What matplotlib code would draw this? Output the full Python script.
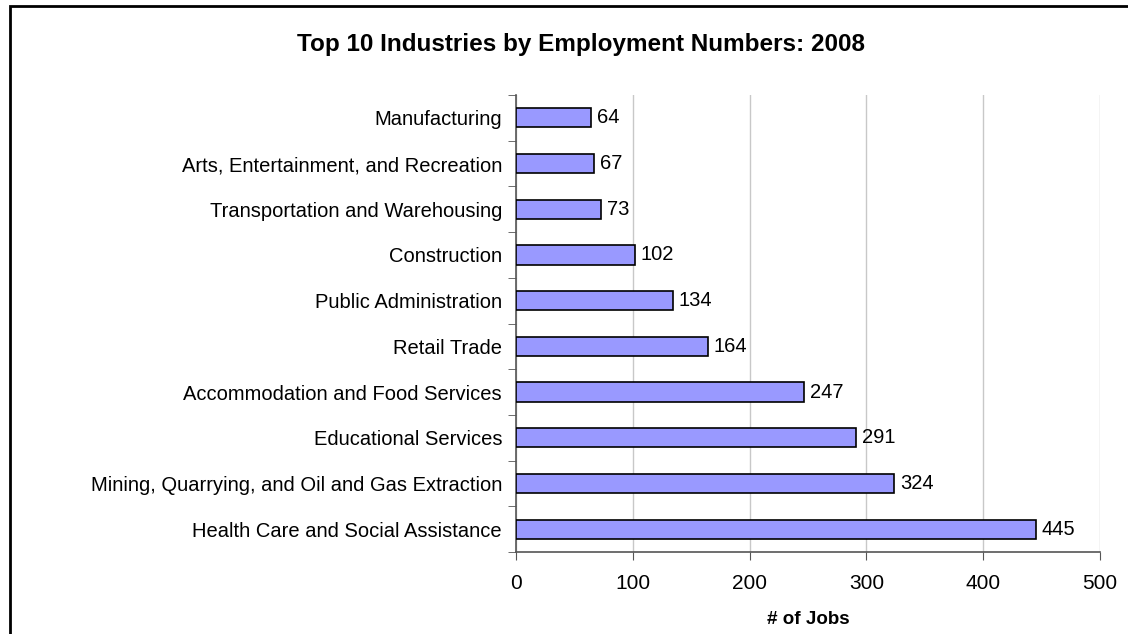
import matplotlib.pyplot as plt
from matplotlib.patches import Rectangle

plt.rcParams['font.family'] = ['Liberation Sans', 'DejaVu Sans']

industries = [
    "Health Care and Social Assistance",
    "Mining, Quarrying, and Oil and Gas Extraction",
    "Educational Services",
    "Accommodation and Food Services",
    "Retail Trade",
    "Public Administration",
    "Construction",
    "Transportation and Warehousing",
    "Arts, Entertainment, and Recreation",
    "Manufacturing",
]
jobs = [445, 324, 291, 247, 164, 134, 102, 73, 67, 64]
x_ticks = [0, 100, 200, 300, 400, 500]

fig = plt.figure(figsize=(11.28, 6.34), dpi=100)
ax = fig.add_axes([516 / 1128, 1 - 552 / 634, 584 / 1128, 457 / 634])

# outer chart frame (runs off the right and bottom edges)
fig.patches.append(Rectangle((10 / 1128, -0.1), 1.2, 1 - 6 / 634 + 0.1,
                             transform=fig.transFigure, fill=False,
                             edgecolor='black', linewidth=2))

pos = list(range(len(industries)))
ax.barh(pos, jobs, height=0.42, color='#9999FF', edgecolor='black',
        linewidth=1.2, zorder=3)
for p, v in zip(pos, jobs):
    ax.text(v + 5, p, str(v), va='center', ha='left', fontsize=14.5)

ax.set_xlim(0, 500)
ax.set_ylim(-0.5, len(industries) - 0.5)
ax.set_xticks(x_ticks)
ax.set_yticks(pos)
ax.set_yticklabels(industries)
ax.set_yticks([p - 0.5 for p in range(len(industries) + 1)], minor=True)
ax.tick_params(axis='y', which='major', length=0, pad=10, labelsize=14.5)
ax.tick_params(axis='y', which='minor', length=6, color='#555555')
ax.tick_params(axis='x', length=6, color='#555555', labelsize=15, pad=10)
ax.xaxis.grid(True, color='#c8c8c8', linewidth=1, zorder=0)
ax.set_axisbelow(True)

for s in ['top', 'right']:
    ax.spines[s].set_visible(False)
for s in ['left', 'bottom']:
    ax.spines[s].set_color('#555555')
    ax.spines[s].set_linewidth(1.2)

ax.set_xlabel("# of Jobs", fontsize=13.5, fontweight='bold', labelpad=13)
fig.text(581 / 1128, 1 - 45 / 634, "Top 10 Industries by Employment Numbers: 2008",
         ha='center', va='center', fontsize=17.5, fontweight='bold')

plt.savefig("out.png", dpi=100)
